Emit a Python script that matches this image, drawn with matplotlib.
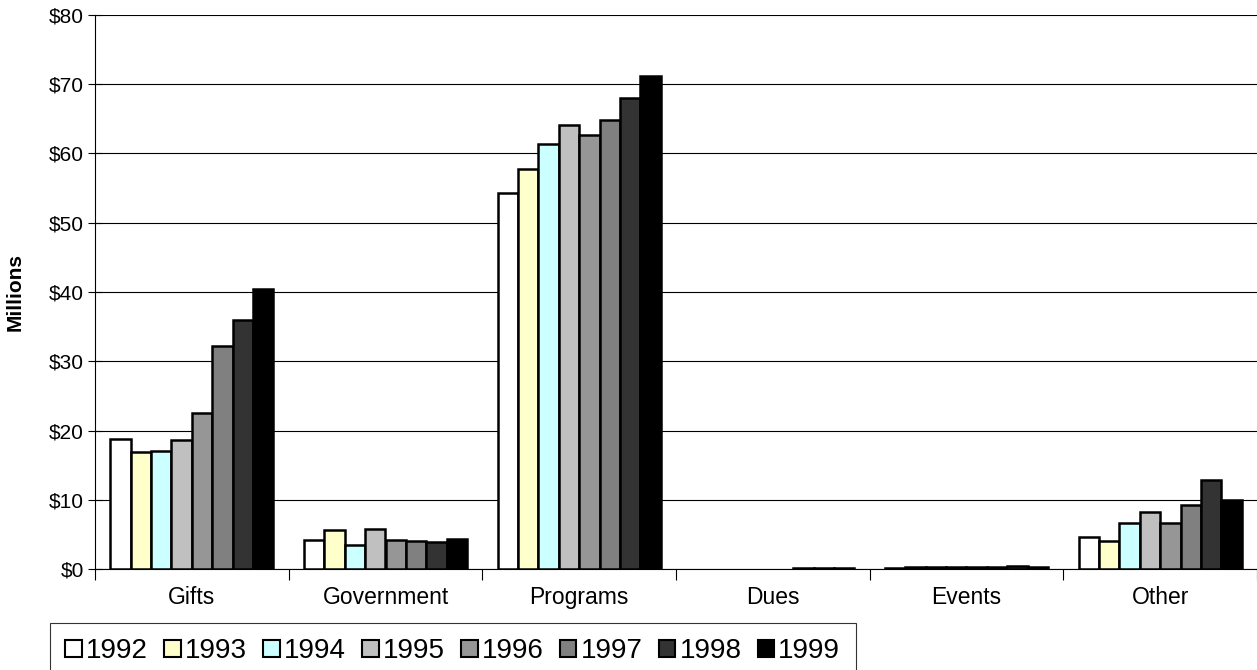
import numpy as np
import matplotlib
matplotlib.use("Agg")
import matplotlib.pyplot as plt
from matplotlib.patches import Patch

plt.rcParams['font.family'] = ['Liberation Sans', 'DejaVu Sans']

categories = ["Gifts", "Government", "Programs", "Dues", "Events", "Other"]
years = ["1992", "1993", "1994", "1995", "1996", "1997", "1998", "1999"]
colors = ["#FFFFFF", "#FFFFCC", "#CCFFFF", "#C0C0C0", "#969696", "#808080", "#333333", "#000000"]

# revenue by source, $ millions (rows = categories, columns = years)
gifts      = [18.8, 16.9, 17.1, 18.7, 22.5, 32.2, 35.9, 40.4]
government = [4.2, 5.7, 3.4, 5.8, 4.2, 4.0, 3.9, 4.3]
programs   = [54.3, 57.7, 61.4, 64.1, 62.7, 64.8, 68.0, 71.2]
dues       = [0.0, 0.0, 0.0, 0.0, 0.0, 0.15, 0.15, 0.15]
events     = [0.2, 0.35, 0.25, 0.3, 0.3, 0.3, 0.45, 0.25]
other      = [4.6, 4.1, 6.7, 8.3, 6.7, 9.3, 12.9, 10.0]

yticks = [0, 10, 20, 30, 40, 50, 60, 70, 80]
ytick_labels = ["$0", "$10", "$20", "$30", "$40", "$50", "$60", "$70", "$80"]

values = np.array([gifts, government, programs, dues, events, other])

fig = plt.figure(figsize=(12.57, 6.70), dpi=100)
ax = fig.add_axes([95 / 1257, (670 - 569) / 670, 1 - 95 / 1257, (569 - 15) / 670])

n = len(years)
width = 1 / (n + 1.5)
x = np.arange(len(categories))
for j, (yr, col) in enumerate(zip(years, colors)):
    offs = (j - (n - 1) / 2) * width
    h = values[:, j]
    keep = h > 0
    ax.bar(x[keep] + offs, h[keep], width=width, color=col, edgecolor="black",
           linewidth=1.8, zorder=3)

ax.set_xlim(-0.5, len(categories) - 0.5)
ax.set_ylim(0, 80)
ax.set_yticks(yticks)
ax.set_yticklabels(ytick_labels, fontsize=15)
ax.yaxis.grid(True, color="black", linewidth=0.8, zorder=0)
ax.tick_params(axis="y", direction="inout", length=10, width=0.8, pad=3)

ax.set_xticks(x)
ax.set_xticklabels(categories, fontsize=16.5)
ax.tick_params(axis="x", length=0, pad=12)
ax.set_xticks(np.arange(len(categories) + 1) - 0.5, minor=True)
ax.tick_params(axis="x", which="minor", direction="out", length=8, width=0.8)

for side in ("top", "right"):
    ax.spines[side].set_visible(False)
ax.spines["left"].set_linewidth(0.8)
ax.spines["bottom"].set_linewidth(0.8)

ax.set_ylabel("Millions", fontsize=15, fontweight="bold")
ax.yaxis.set_label_coords(-70 / 1162, 0.5)

handles = [Patch(facecolor=c, edgecolor="black", linewidth=1.5) for c in colors]
leg = fig.legend(handles, years, loc="upper left", bbox_to_anchor=(50 / 1257, 1 - 623 / 670),
                 ncol=n, fontsize=20, frameon=True, fancybox=False, handlelength=0.6,
                 handleheight=0.6, handletextpad=0.15, columnspacing=0.58,
                 borderpad=0.55, borderaxespad=0)
leg.get_frame().set_edgecolor("black")
leg.get_frame().set_linewidth(0.8)

fig.savefig("out.png", dpi=100)
